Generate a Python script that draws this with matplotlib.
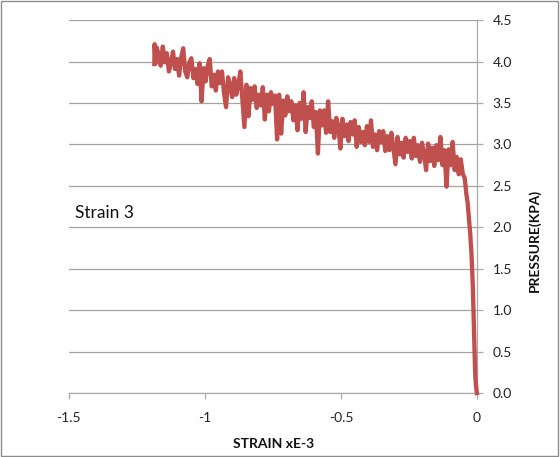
import matplotlib as mpl
mpl.use('agg')
import matplotlib.pyplot as plt
from matplotlib.patches import Rectangle

plt.rcParams['font.family'] = ['Lato', 'DejaVu Sans']

# strain (xE-3) and pressure (kPa) readings
strain = [
    -1.186, -1.185, -1.181, -1.1775, -1.170, -1.1625, -1.155, -1.1475, -1.140, -1.1325,
    -1.125, -1.1175, -1.110, -1.1025, -1.095, -1.0875, -1.080, -1.0725, -1.065, -1.0575,
    -1.050, -1.0425, -1.035, -1.0275, -1.020, -1.0125, -1.005, -0.9975, -0.990, -0.9825,
    -0.975, -0.9675, -0.960, -0.9525, -0.945, -0.9375, -0.930, -0.9225, -0.915, -0.9075,
    -0.900, -0.8925, -0.885, -0.8775, -0.870, -0.8625, -0.855, -0.8475, -0.840, -0.8325,
    -0.825, -0.8175, -0.810, -0.8025, -0.795, -0.7875, -0.780, -0.7725, -0.765, -0.7575,
    -0.750, -0.7425, -0.735, -0.7275, -0.720, -0.7125, -0.705, -0.6975, -0.690, -0.6825,
    -0.675, -0.6675, -0.660, -0.6525, -0.645, -0.6375, -0.630, -0.6225, -0.615, -0.6075,
    -0.600, -0.5925, -0.585, -0.5775, -0.570, -0.5625, -0.555, -0.5475, -0.540, -0.5325,
    -0.525, -0.5175, -0.510, -0.5025, -0.495, -0.4875, -0.480, -0.4725, -0.465, -0.4575,
    -0.450, -0.4425, -0.435, -0.4275, -0.420, -0.4125, -0.405, -0.3975, -0.390, -0.3825,
    -0.375, -0.3675, -0.360, -0.3525, -0.345, -0.3375, -0.330, -0.3225, -0.315, -0.3075,
    -0.300, -0.2925, -0.285, -0.2775, -0.270, -0.2625, -0.255, -0.2475, -0.240, -0.2325,
    -0.225, -0.2175, -0.210, -0.2025, -0.195, -0.1875, -0.180, -0.1725, -0.165, -0.1575,
    -0.150, -0.1425, -0.135, -0.1275, -0.120, -0.1125, -0.105, -0.0975, -0.090, -0.0825,
    -0.075, -0.0675, -0.060, -0.0525,
    # steep unloading section near zero strain
    -0.0460, -0.0425, -0.0395, -0.0350, -0.0325, -0.0298, -0.0272, -0.0248, -0.0232,
    -0.0210, -0.0197, -0.0183, -0.0172, -0.0159, -0.0151, -0.0141, -0.0136, -0.0127,
    -0.0121, -0.0111, -0.0106, -0.0096, -0.0089, -0.0077, -0.0066, -0.0044, -0.0010,
]
pressure = [
    3.97, 4.21, 3.98, 4.17, 4.08, 3.95, 4.18, 3.99, 4.10, 3.88,
    3.98, 4.12, 3.91, 4.03, 3.83, 4.05, 4.16, 3.88, 3.81, 3.99,
    4.04, 3.80, 3.91, 3.73, 3.98, 3.52, 3.92, 3.76, 3.95, 4.03,
    3.70, 3.84, 3.65, 3.88, 3.74, 3.88, 3.62, 3.45, 3.81, 3.72,
    3.57, 3.80, 3.60, 3.71, 3.88, 3.54, 3.21, 3.72, 3.34, 3.68,
    3.54, 3.70, 3.44, 3.60, 3.47, 3.69, 3.30, 3.60, 3.40, 3.63,
    3.49, 3.59, 3.06, 3.60, 3.13, 3.53, 3.35, 3.58, 3.40, 3.52,
    3.29, 3.47, 3.17, 3.50, 3.31, 3.63, 3.15, 3.45, 3.32, 3.52,
    3.21, 3.39, 2.89, 3.41, 3.23, 3.41, 3.14, 3.52, 3.15, 3.28,
    3.08, 3.32, 3.22, 2.95, 3.31, 3.10, 3.24, 3.04, 3.27, 3.12,
    3.29, 2.97, 3.21, 3.03, 3.15, 2.99, 3.22, 3.03, 3.29, 2.97,
    3.12, 2.93, 3.16, 3.03, 3.16, 2.92, 3.10, 2.93, 3.14, 2.95,
    2.76, 3.09, 2.88, 3.02, 2.84, 3.08, 2.91, 3.04, 2.83, 3.08,
    2.86, 2.99, 2.79, 3.02, 2.88, 2.69, 3.01, 2.80, 2.96, 2.74,
    2.99, 2.81, 3.09, 2.75, 2.93, 2.49, 2.94, 2.75, 3.03, 2.69,
    2.85, 2.64, 2.82, 2.64,
    2.60, 2.50, 2.40, 2.30, 2.20, 2.10, 2.00, 1.90, 1.80,
    1.70, 1.60, 1.50, 1.40, 1.30, 1.20, 1.10, 1.00, 0.90,
    0.80, 0.70, 0.60, 0.50, 0.40, 0.30, 0.20, 0.10, 0.0,
]

x_ticks = [-1.5, -1, -0.5, 0]
x_tick_labels = ['-1.5', '-1', '-0.5', '0']
y_ticks = [0.0, 0.5, 1.0, 1.5, 2.0, 2.5, 3.0, 3.5, 4.0, 4.5]

axis_grey = '#aaaaaa'
grid_grey = '#a3a3a3'

fig = plt.figure(figsize=(5.6, 4.57), dpi=100)
ax = fig.add_axes([0.123, 0.140, 0.729, 0.816])

ax.plot(strain, pressure, color='#C0504D', lw=3.1, solid_joinstyle='round',
        clip_on=False, zorder=3)

ax.set_xlim(-1.5, 0)
ax.set_ylim(0, 4.5)
ax.set_xticks(x_ticks)
ax.set_xticklabels(x_tick_labels)
ax.set_yticks(y_ticks)
ax.set_yticklabels(['%.1f' % v for v in y_ticks])

ax.yaxis.tick_right()
ax.grid(axis='y', color=grid_grey, lw=0.9)
ax.set_axisbelow(True)
for side in ['left', 'top']:
    ax.spines[side].set_visible(False)
for side in ['right', 'bottom']:
    ax.spines[side].set_color(axis_grey)
    ax.spines[side].set_linewidth(0.9)
ax.tick_params(axis='both', direction='out', length=4, width=0.9,
               color=axis_grey, labelsize=10, labelcolor='#222222')
ax.tick_params(axis='y', pad=7)
ax.tick_params(axis='x', pad=10)

ax.text(-1.478, 2.17, 'Strain 3', fontsize=12.5, va='center', ha='left',
        color='#111111')

fig.text(0.488, 0.028, 'STRAIN xE-3', fontsize=10, fontweight='bold',
         ha='center', va='center', color='#111111')
fig.text(0.955, 0.473, 'PRESSURE(KPA)', fontsize=10, fontweight='bold',
         rotation=90, ha='center', va='center', color='#111111')

fig.patches.append(Rectangle((0.002, 0.003), 0.995, 0.994, transform=fig.transFigure,
                             fill=False, ec='#8c8c8c', lw=1))

fig.savefig('out.png', dpi=100)
